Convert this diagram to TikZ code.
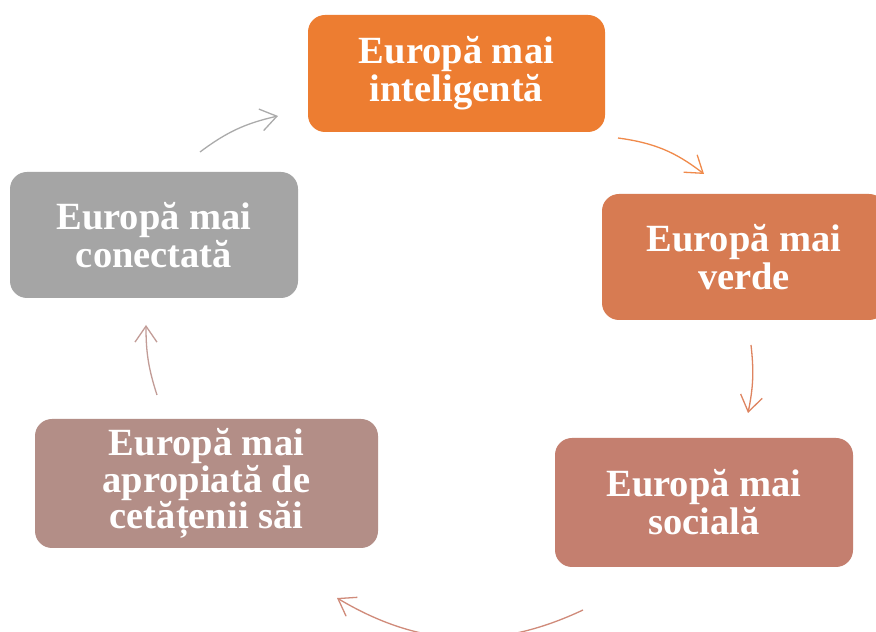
\documentclass[tikz,border=0pt]{standalone}
\usepackage{fontspec}
\setmainfont{Liberation Serif}
\usetikzlibrary{arrows.meta}
\definecolor{cIntel}{HTML}{ED7D31}
\definecolor{cVerde}{HTML}{D77B52}
\definecolor{cSocial}{HTML}{C47F6F}
\definecolor{cAprop}{HTML}{B38E87}
\definecolor{cConect}{HTML}{A5A5A5}
\definecolor{aGray}{HTML}{ABABAB}
\definecolor{aOrange}{HTML}{F08A4B}
\definecolor{aVerde}{HTML}{DE8460}
\definecolor{aSocial}{HTML}{D08B7A}
\definecolor{aAprop}{HTML}{C29C97}
\begin{document}
\begin{tikzpicture}[x=1pt,y=1pt,
  box/.style={rounded corners=17pt, inner sep=0pt, text=white, align=center,
    font=\bfseries\fontsize{38.5}{38}\selectfont},
  cyc/.style={line width=1.3pt, -{Straight Barb[length=16pt,width=22pt]}}]
\useasboundingbox (0,0) rectangle (876,632);
\fill[white] (0,0) rectangle (876,632);
% boxes
\node[box, fill=cIntel, minimum width=297pt, minimum height=117pt] (intel) at (456.5,558.5) {Europă mai\\inteligentă};
\node[box, fill=cVerde, minimum width=284pt, minimum height=126pt] (verde) at (744,375) {Europă mai\\verde};
\node[box, fill=cSocial, minimum width=298pt, minimum height=129pt] (social) at (704,129.5) {Europă mai\\socială};
\node[box, fill=cAprop, minimum width=343pt, minimum height=129pt, font=\bfseries\fontsize{38.5}{33.5}\selectfont] (aprop) at (206.5,148.5) {Europă mai\\apropiată de\\cetățenii săi};
\node[box, fill=cConect, minimum width=288pt, minimum height=126pt] (conect) at (154,397) {Europă mai\\conectată};
% arrow end points
\coordinate (a1s) at (200,480);
\coordinate (a1e) at (278,516);
\coordinate (a2s) at (618,494);
\coordinate (a2e) at (704,458);
\coordinate (a3s) at (751,287);
\coordinate (a3e) at (748,219);
\coordinate (a4s) at (583,22);
\coordinate (a4e) at (337,34);
\coordinate (a5s) at (157,237);
\coordinate (a5e) at (146,307);
% arrows
\draw[cyc, aGray] (a1s) to[bend left=12] (a1e);
\draw[cyc, aOrange] (a2s) to[bend left=15] (a2e);
\draw[cyc, aVerde] (a3s) to[bend left=9] (a3e);
\draw[cyc, aSocial] (a4s) to[bend left=28] (a4e);
\draw[cyc, aAprop] (a5s) to[bend left=9] (a5e);
\end{tikzpicture}
\end{document}
